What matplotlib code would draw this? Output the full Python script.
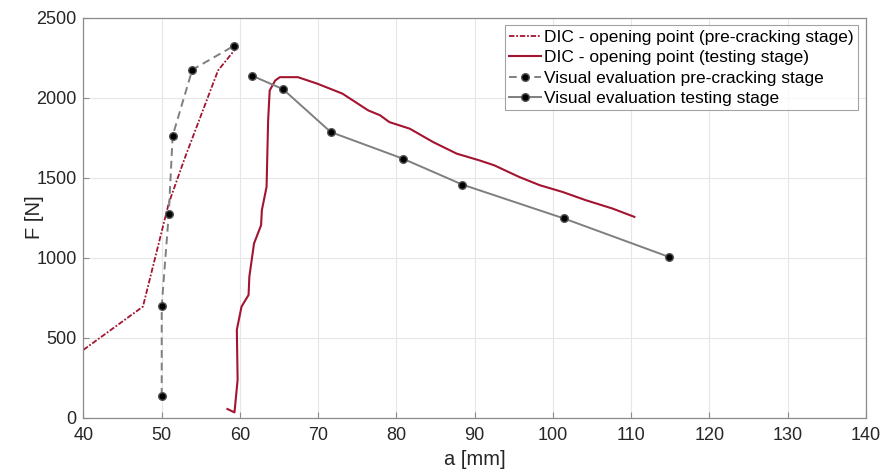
import numpy as np
import matplotlib.pyplot as plt

plt.rcParams['font.family'] = ['Liberation Sans', 'DejaVu Sans']

# DIC - opening point, pre-cracking stage
a_dic_pre = [40.0, 47.6, 50.9, 53.0, 57.2, 59.6]
F_dic_pre = [424, 694, 1340, 1629, 2170, 2315]

# DIC - opening point, testing stage
a_dic_test = [58.4, 59.3, 59.7, 59.6, 60.2, 61.1, 61.2, 61.8, 62.7, 62.8, 63.4, 63.6,
              63.8, 64.5, 65.1, 67.4, 69.9, 73.1, 76.4, 77.9, 79.1, 81.7, 84.7, 87.7,
              90.6, 92.5, 95.7, 98.3, 101.2, 104.2, 107.6, 110.4]
F_dic_test = [54, 33, 237, 549, 694, 767, 881, 1089, 1203, 1297, 1442, 1858,
              2045, 2107, 2128, 2128, 2087, 2025, 1920, 1890, 1847, 1806, 1722, 1650,
              1608, 1577, 1504, 1453, 1411, 1359, 1307, 1255]

# visual evaluation
a_vis_pre = [50.0, 50.0, 50.9, 51.4, 53.9, 59.2]
F_vis_pre = [137, 698, 1272, 1762, 2174, 2323]

a_vis_test = [61.6, 65.5, 71.6, 80.8, 88.4, 101.4, 114.8]
F_vis_test = [2136, 2053, 1785, 1619, 1457, 1245, 1005]

red = '#A2142F'
gray = '#7f7f7f'

fig = plt.figure(figsize=(8.85, 4.73), dpi=100)
ax = fig.add_axes([0.0943, 0.117, 0.8842, 0.8457])

ax.plot(a_dic_pre, F_dic_pre, color=red, lw=1.3, ls=(0, (3, 1, 1, 1)),
        label='DIC - opening point (pre-cracking stage)')
ax.plot(a_dic_test, F_dic_test, color=red, lw=1.5, ls='-',
        label='DIC - opening point (testing stage)')
ax.plot(a_vis_pre, F_vis_pre, color=gray, lw=1.4, ls=(0, (4, 2.5)), marker='o',
        ms=5.5, mfc='black', mec='#555555', mew=1.0,
        label='Visual evaluation pre-cracking stage')
ax.plot(a_vis_test, F_vis_test, color=gray, lw=1.4, ls='-', marker='o',
        ms=5.5, mfc='black', mec='#555555', mew=1.0,
        label='Visual evaluation testing stage')

ax.set_xlim(40, 140)
ax.set_ylim(0, 2500)
ax.set_xticks(np.arange(40, 141, 10))
ax.set_yticks(np.arange(0, 2501, 500))
ax.grid(True, color='#e6e6e6', lw=0.8)
ax.set_axisbelow(True)
for s in ax.spines.values():
    s.set_color('#8c8c8c')
    s.set_linewidth(0.9)
ax.tick_params(direction='in', length=4, color='#8c8c8c', labelsize=13,
               labelcolor='#262626', top=False, right=False)
ax.tick_params(axis='x', pad=7)
ax.tick_params(axis='y', pad=5)
ax.set_xlabel('a [mm]', fontsize=14.5, color='#262626', labelpad=4)
ax.set_ylabel('F [N]', fontsize=14.5, color='#262626', labelpad=-6)

leg = ax.legend(loc='upper right', fontsize=12.5, frameon=True, fancybox=False,
                edgecolor='#8c8c8c', handlelength=1.8, handletextpad=0.2,
                borderpad=0.25, labelspacing=0.3, borderaxespad=0.45)
leg.get_frame().set_linewidth(0.8)

fig.savefig('out.png', dpi=100)
